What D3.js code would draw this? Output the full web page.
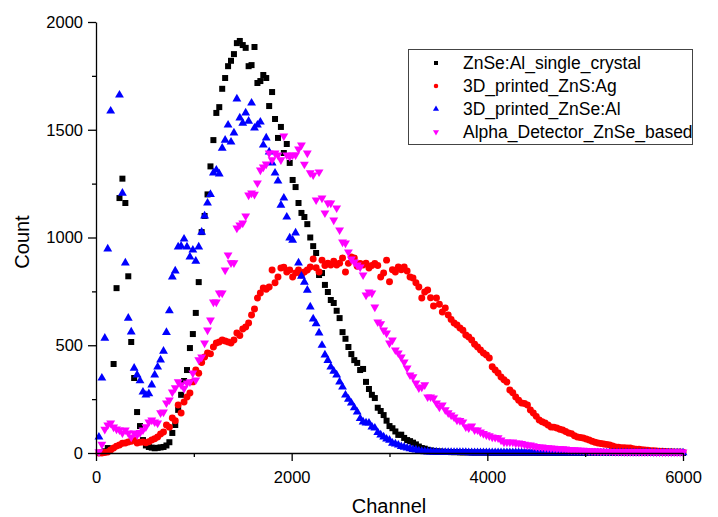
<!DOCTYPE html>
<html>
<head>
<meta charset="utf-8">
<script src="https://cdn.jsdelivr.net/npm/d3@7"></script>
<style>
  body { margin: 0; background: #fff; }
  text { font-family: "Liberation Sans", Arial, Helvetica, sans-serif; fill: #000; }
</style>
</head>
<body>
<svg id="chart" width="718" height="517"></svg>
<script>
// channel grid (one bin every 30 channels)
var channels = [
  30,60,90,120,150,180,210,240,270,300,330,360,390,420,450,480,510,540,570,600,
  630,660,690,720,750,780,810,840,870,900,930,960,990,1020,1050,1080,1110,1140,1170,1200,
  1230,1260,1290,1320,1350,1380,1410,1440,1470,1500,1530,1560,1590,1620,1650,1680,1710,1740,1770,1800,
  1830,1860,1890,1920,1950,1980,2010,2040,2070,2100,2130,2160,2190,2220,2250,2280,2310,2340,2370,2400,
  2430,2460,2490,2520,2550,2580,2610,2640,2670,2700,2730,2760,2790,2820,2850,2880,2910,2940,2970,3000,
  3030,3060,3090,3120,3150,3180,3210,3240,3270,3300,3330,3360,3390,3420,3450,3480,3510,3540,3570,3600,
  3630,3660,3690,3720,3750,3780,3810,3840,3870,3900,3930,3960,3990,4020,4050,4080,4110,4140,4170,4200,
  4230,4260,4290,4320,4350,4380,4410,4440,4470,4500,4530,4560,4590,4620,4650,4680,4710,4740,4770,4800,
  4830,4860,4890,4920,4950,4980,5010,5040,5070,5100,5130,5160,5190,5220,5250,5280,5310,5340,5370,5400,
  5430,5460,5490,5520,5550,5580,5610,5640,5670,5700,5730,5760,5790,5820,5850,5880,5910,5940,5970,6000
];

// ZnSe:Al_single_crystal
var singleCrystal = [
  0,2,8,23,null,413,765,1183,1273,1160,820,515,348,190,125,60,35,28,25,22,
  24,26,28,35,50,93,130,200,270,334,385,487,552,650,793,1025,1100,1200,1330,1452,
  1578,1605,1690,1740,1795,1820,1851,1902,1912,1893,1880,1795,1800,1884,1717,1726,1754,1740,1610,1675,
  1550,1462,1513,1392,1434,1346,1267,1234,1160,1114,1095,1062,1000,960,928,826,835,780,747,710,
  696,660,626,561,530,492,459,431,418,385,390,330,297,270,255,210,195,176,150,125,
  115,100,84,85,70,60,55,48,40,30,23,20,15,12,10,8,7,6,5,5,
  4,4,4,3,3,3,3,2,2,2,2,2,2,1,1,1,1,1,1,1,
  1,1,1,1,1,1,1,1,1,1,0,0,0,0,0,0,0,0,0,0,
  0,0,0,0,0,0,0,0,0,0,0,0,0,0,0,0,0,0,0,0,
  0,0,0,0,0,0,0,0,0,0,0,0,0,0,0,0,0,0,0,0
];

// 3D_printed_ZnS:Ag
var printedZnS = [
  0,0,2,5,14,23,32,37,45,46,51,55,60,46,50,51,47,52,60,66,
  74,88,97,130,120,162,150,223,186,237,260,278,330,385,370,420,445,464,460,492,
  510,515,524,520,515,510,524,557,545,575,585,603,640,668,719,742,766,760,770,849,
  790,817,858,862,840,849,817,835,849,826,840,849,863,900,860,840,895,870,881,872,
  890,872,881,905,840,880,910,905,867,880,872,881,858,870,880,870,817,835,895,795,
  850,840,863,850,863,845,817,812,790,770,719,747,756,720,682,719,690,654,673,640,
  620,603,594,580,570,548,538,524,505,492,478,464,455,441,400,385,371,353,340,329,
  292,280,260,245,232,230,223,200,186,170,153,145,139,130,121,120,116,110,107,100,
  93,90,80,74,72,70,65,60,55,50,46,44,42,40,37,33,28,27,25,24,
  23,23,20,18,17,15,14,13,11,10,9,8,8,7,6,6,5,5,5,4
];

// 3D_printed_ZnSe:Al
var printedZnSe = [
  74,348,533,947,1587,null,null,1661,1206,882,626,562,394,362,335,283,269,275,316,362,
  399,432,473,560,660,817,845,956,960,993,956,910,942,890,956,1025,1100,1160,1200,1300,
  1313,1295,1415,1452,1522,1443,1485,1643,1555,1531,1578,1540,1624,1508,1522,1536,1429,1462,1397,1346,
  1299,1262,1150,1183,1095,998,988,1021,882,821,793,756,678,622,600,557,500,455,430,399,
  380,362,330,306,269,250,232,210,190,160,144,140,139,121,116,95,84,75,65,60,
  46,42,37,30,27,23,20,16,14,10,8,6,5,5,4,4,3,3,3,3,
  3,3,3,3,3,3,2,2,2,2,2,2,2,2,2,2,2,2,2,2,
  2,2,2,2,2,2,2,2,1,1,1,1,1,1,1,1,1,1,1,1,
  1,1,1,1,1,1,1,1,1,1,1,1,1,1,1,1,1,1,1,1,
  1,1,1,1,1,1,1,1,1,1,1,1,1,1,1,1,1,1,1,1
];

// Alpha_Detector_ZnSe_based
var alphaDetector = [
  5,40,110,130,139,120,111,107,93,107,93,74,93,84,95,107,121,144,153,144,
  139,186,190,232,246,283,302,330,316,300,325,330,371,339,432,445,510,570,617,700,
  700,742,742,849,919,882,882,1044,1058,1067,1100,1197,1206,1200,1253,1313,1327,1341,1392,1360,
  1392,1383,1360,1471,1383,1375,1383,1383,1410,1429,1340,1392,1300,1290,1174,1304,1183,1114,1160,1160,
  1081,1137,1035,979,974,933,900,886,872,863,826,733,747,742,677,608,600,570,556,510,
  524,478,464,445,422,394,362,353,325,302,306,316,260,260,255,232,213,223,200,186,
  176,167,153,150,144,121,116,125,107,107,97,90,84,80,74,72,70,60,51,51,
  50,51,46,46,44,40,37,37,33,30,28,27,25,24,23,22,20,20,19,18,
  16,15,15,14,13,12,11,10,10,9,9,8,8,7,7,7,6,6,6,5,
  5,5,5,5,5,5,5,5,5,4,4,4,4,4,4,4,4,4,4,4
];

var seriesNames = ["ZnSe:Al_single_crystal", "3D_printed_ZnS:Ag", "3D_printed_ZnSe:Al", "Alpha_Detector_ZnSe_based"];
var xTicks = [0, 2000, 4000, 6000];
var xMinor = [1000, 3000, 5000];
var yTicks = [0, 500, 1000, 1500, 2000];
var yMinor = [250, 750, 1250, 1750];

var svg = d3.select("#chart");

var x = d3.scaleLinear().domain([0, 6000]).range([96, 683]);
var y = d3.scaleLinear().domain([0, 2000]).range([453, 22]);

var series = [
  { name: seriesNames[0], values: singleCrystal, color: "#000000", symbol: d3.symbolSquare, size: 36 },
  { name: seriesNames[1], values: printedZnS, color: "#ff0000", symbol: d3.symbolCircle, size: 38 },
  { name: seriesNames[2], values: printedZnSe, color: "#0000ff", symbol: d3.symbolTriangle, size: 34, rot: 0 },
  { name: seriesNames[3], values: alphaDetector, color: "#ff00ff", symbol: d3.symbolTriangle, size: 34, rot: 180 }
];

// points
series.forEach(function(s) {
  var pts = channels.map(function(c, i) { return { c: c, v: s.values[i] }; })
    .filter(function(d) { return d.v != null; });
  svg.append("g")
    .selectAll("path")
    .data(pts)
    .enter().append("path")
    .attr("d", d3.symbol().type(s.symbol).size(s.size))
    .attr("transform", function(d) {
      return "translate(" + x(d.c) + "," + y(d.v) + ")" + (s.rot ? " rotate(" + s.rot + ")" : "");
    })
    .attr("fill", s.color);
});

// axes
svg.append("g")
  .attr("transform", "translate(0,453)")
  .call(d3.axisBottom(x).tickValues(xTicks).tickFormat(d3.format("d"))
    .tickSize(8).tickPadding(10).tickSizeOuter(0));
svg.append("g")
  .attr("transform", "translate(0,453)")
  .call(d3.axisBottom(x).tickValues(xMinor).tickSize(4).tickFormat("").tickSizeOuter(0))
  .select(".domain").remove();

svg.append("g")
  .attr("transform", "translate(96,0)")
  .call(d3.axisLeft(y).tickValues(yTicks).tickFormat(d3.format("d"))
    .tickSize(8).tickPadding(5).tickSizeOuter(0));
svg.append("g")
  .attr("transform", "translate(96,0)")
  .call(d3.axisLeft(y).tickValues(yMinor).tickSize(4).tickFormat("").tickSizeOuter(0))
  .select(".domain").remove();

svg.selectAll(".domain, .tick line").attr("stroke", "#000").attr("stroke-width", 1.3);
svg.selectAll(".tick text").style("font-size", "16.5px").attr("fill", "#000");

// axis titles
svg.append("text")
  .attr("x", 389).attr("y", 513)
  .attr("text-anchor", "middle")
  .style("font-size", "20px")
  .text("Channel");

svg.append("text")
  .attr("transform", "translate(29,242) rotate(-90)")
  .attr("text-anchor", "middle")
  .style("font-size", "20px")
  .text("Count");

// legend
var legend = svg.append("g");
legend.append("rect")
  .attr("x", 408.5).attr("y", 49.5)
  .attr("width", 284).attr("height", 95)
  .attr("fill", "#fff")
  .attr("stroke", "#444").attr("stroke-width", 1);

series.forEach(function(s, i) {
  var ly = 63 + i * 23;
  legend.append("path")
    .attr("d", d3.symbol().type(s.symbol).size(16))
    .attr("transform", "translate(436," + ly + ")" + (s.rot ? " rotate(" + s.rot + ")" : ""))
    .attr("fill", s.color);
  legend.append("text")
    .attr("x", 463).attr("y", ly)
    .attr("dy", "0.36em")
    .style("font-size", "17.5px")
    .text(s.name);
});
</script>
</body>
</html>
